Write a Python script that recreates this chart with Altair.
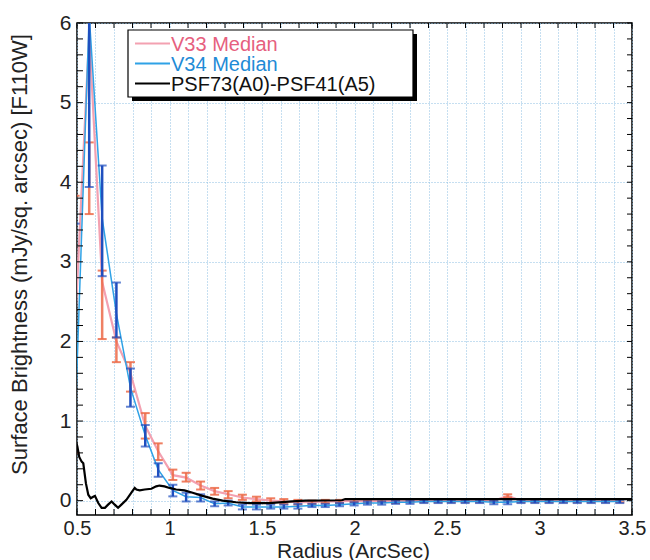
import altair as alt
import pandas as pd

# ---------------- data ----------------
radius = [0.490, 0.566, 0.636, 0.713, 0.789, 0.869, 0.939, 1.018, 1.090, 1.168,
          1.244, 1.317, 1.394, 1.470, 1.547, 1.618, 1.694, 1.770, 1.842, 1.919,
          1.998, 2.070, 2.147, 2.222, 2.300, 2.375, 2.452, 2.523, 2.598, 2.676,
          2.753, 2.828, 2.900, 2.975, 3.052, 3.129, 3.204, 3.279, 3.357, 3.434]

v34_med = [1.0, 6.1, 3.55, 2.35, 1.42, 0.82, 0.39, 0.13, 0.05, 0.04,
           -0.04, -0.03, -0.08, -0.08, -0.08, -0.08, -0.07, -0.06, -0.06, -0.05,
           -0.04, -0.03, -0.03, -0.02, -0.02, -0.01, -0.01, -0.01, -0.01, -0.01,
           -0.02, -0.02, -0.01, -0.01, -0.01, -0.01, -0.01, -0.01, -0.01, -0.01]
v34_lo = [-1.0, 3.94, 2.82, 2.05, 1.18, 0.68, 0.30, 0.054, -0.01, -0.01,
          -0.07, -0.06, -0.11, -0.11, -0.10, -0.10, -0.10, -0.08, -0.08, -0.07,
          -0.06, -0.05, -0.05, -0.04, -0.04, -0.03, -0.03, -0.03, -0.03, -0.03,
          -0.045, -0.045, -0.03, -0.03, -0.03, -0.03, -0.03, -0.03, -0.03, -0.03]
v34_hi = [3.48, 8.3, 4.21, 2.74, 1.66, 0.95, 0.47, 0.20, 0.10, 0.08,
          -0.01, 0.0, -0.05, -0.05, -0.05, -0.05, -0.04, -0.04, -0.04, -0.03,
          -0.02, -0.01, -0.01, 0.0, 0.0, 0.01, 0.01, 0.01, 0.01, 0.01,
          0.0, 0.0, 0.01, 0.01, 0.01, 0.01, 0.01, 0.01, 0.01, 0.01]

v33_med = [2.2, 5.87, 2.75, 2.0, 1.6, 0.94, 0.62, 0.32, 0.29, 0.19,
           0.12, 0.08, 0.04, 0.02, 0.0, -0.01, -0.02, -0.02, -0.01, -0.01,
           0.0, -0.01, 0.0, -0.01, 0.0, 0.0, 0.0, 0.0, 0.0, 0.0,
           0.0, 0.06, 0.0, 0.0, 0.0, 0.0, 0.0, 0.0, 0.0, 0.0]
v33_lo = [0.6, 3.6, 2.03, 1.74, 1.37, 0.78, 0.51, 0.26, 0.24, 0.14,
          0.075, 0.03, 0.01, -0.01, -0.03, -0.04, -0.05, -0.04, -0.03, -0.03,
          -0.02, -0.03, -0.02, -0.03, -0.02, -0.02, -0.02, -0.02, -0.02, -0.02,
          -0.02, 0.04, -0.02, -0.02, -0.02, -0.02, -0.02, -0.02, -0.02, -0.02]
v33_hi = [3.83, 4.5, 2.89, 2.05, 1.74, 1.10, 0.72, 0.39, 0.35, 0.24,
          0.16, 0.12, 0.075, 0.05, 0.03, 0.02, 0.01, 0.0, 0.01, 0.01,
          0.02, 0.01, 0.02, 0.01, 0.02, 0.02, 0.02, 0.02, 0.02, 0.02,
          0.02, 0.08, 0.02, 0.02, 0.02, 0.02, 0.02, 0.02, 0.02, 0.02]

psf_r = [0.495, 0.502, 0.512, 0.525, 0.534, 0.548, 0.561, 0.574, 0.588, 0.597,
         0.615, 0.633, 0.651, 0.668, 0.687, 0.704, 0.722, 0.740, 0.767, 0.794,
         0.812, 0.821, 0.839, 0.866, 0.902, 0.928, 0.946, 0.973, 1.000, 1.036,
         1.081, 1.125, 1.179, 1.233, 1.287, 1.359, 1.430, 1.538, 1.663, 1.735,
         1.932, 1.950, 2.505, 3.000, 3.500]
psf_v = [0.74, 0.68, 0.55, 0.49, 0.47, 0.22, 0.075, 0.03, 0.05, 0.06,
         -0.03, -0.09, -0.09, -0.05, -0.01, -0.05, -0.09, -0.05, 0.01, 0.10,
         0.16, 0.14, 0.13, 0.14, 0.15, 0.18, 0.19, 0.18, 0.16, 0.14,
         0.13, 0.10, 0.06, 0.025, 0.0, -0.02, -0.03, -0.03, -0.01, 0.0,
         0.005, 0.02, 0.02, 0.02, 0.02]

x_ticks = [round(0.5 + 0.1 * i, 1) for i in range(31)]
y_ticks = [round(0.2 * i, 1) for i in range(31)]
y_labels = [0, 1, 2, 3, 4, 5, 6]

legend_labels = ["V33 Median", "V34 Median", "PSF73(A0)-PSF41(A5)"]

# ---------------- styles ----------------
W, H = 555, 492
FONT = "Liberation Sans"
PINK = "#f3a1b1"
PINK_TXT = "#e6607e"
RED = "#ec6a48"
LBLUE = "#2fa2e6"
BLUE_TXT = "#1f8bd6"
DBLUE = "#1f4fbf"
GRID = "#8cbfe3"

xs = alt.Scale(domain=[0.5, 3.5], nice=False, zero=False)
ys = alt.Scale(domain=[-0.18, 6], nice=False, zero=False)

xaxis = alt.Axis(values=x_ticks, grid=True, gridColor=GRID, gridDash=[1, 2],
                 gridWidth=1, ticks=False, domain=False,
                 labelExpr="abs(datum.value*2 - round(datum.value*2)) < 0.001 ? toString(round(datum.value*10)/10) : ''",
                 labelFont=FONT, labelFontSize=20, labelColor="#222",
                 labelPadding=3, labelFlush=False, labelOverlap=False,
                 title="Radius (ArcSec)", titleFont=FONT, titleFontSize=21,
                 titleFontWeight="normal", titleColor="#222",
                 titleX=276, titleY=42, titleBaseline="alphabetic")
yaxis = alt.Axis(values=y_labels, grid=True, gridColor=GRID, gridDash=[1, 2],
                 gridWidth=1, ticks=False, domain=False,
                 labelFont=FONT, labelFontSize=21, labelColor="#222",
                 labelPadding=6, labelFlush=False, labelOverlap=False,
                 title="Surface Brightness (mJy/sq. arcsec) [F110W]",
                 titleFont=FONT, titleFontSize=22, titleFontWeight="normal",
                 titleColor="#222", titleX=-46, titleY=231)


def X(f):
    return alt.X(f, type="quantitative", scale=xs, axis=xaxis)


def Y(f):
    return alt.Y(f, type="quantitative", scale=ys, axis=yaxis)


df = pd.DataFrame({"r": radius, "v33": v33_med, "v33_lo": v33_lo, "v33_hi": v33_hi,
                   "v34": v34_med, "v34_lo": v34_lo, "v34_hi": v34_hi})
psf = pd.DataFrame({"r": psf_r, "v": psf_v})
xt = pd.DataFrame({"r": x_ticks})
yt = pd.DataFrame({"v": y_ticks})
one = pd.DataFrame({"a": [0]})

layers = []

# V33
layers.append(alt.Chart(df).mark_line(color=PINK, strokeWidth=2.2, clip=True)
              .encode(x=X("r"), y=Y("v33")))
layers.append(alt.Chart(df).mark_rule(color=RED, strokeWidth=2.5, opacity=0.85, clip=True)
              .encode(x=X("r"), y=Y("v33_lo"), y2="v33_hi"))
for f in ["v33_lo", "v33_hi"]:
    layers.append(alt.Chart(df).mark_tick(color=RED, orient="horizontal", size=9,
                                          thickness=2, opacity=0.85, clip=True)
                  .encode(x=X("r"), y=Y(f)))
# V34
layers.append(alt.Chart(df).mark_line(color=LBLUE, strokeWidth=1.5, clip=True)
              .encode(x=X("r"), y=Y("v34")))
layers.append(alt.Chart(df).mark_rule(color=DBLUE, strokeWidth=2.5, clip=True)
              .encode(x=X("r"), y=Y("v34_lo"), y2="v34_hi"))
for f in ["v34_lo", "v34_hi"]:
    layers.append(alt.Chart(df).mark_tick(color=DBLUE, orient="horizontal", size=9,
                                          thickness=2, clip=True)
                  .encode(x=X("r"), y=Y(f)))
# PSF difference
layers.append(alt.Chart(psf).mark_line(color="black", strokeWidth=2.2, clip=True)
              .encode(x=X("r"), y=Y("v")))

# inward ticks on all four sides
layers.append(alt.Chart(xt).mark_rule(color="black", strokeWidth=1)
              .encode(x=X("r"), y=alt.value(H), y2=alt.value(H - 6)))
layers.append(alt.Chart(xt).mark_rule(color="black", strokeWidth=1)
              .encode(x=X("r"), y=alt.value(0), y2=alt.value(5)))
layers.append(alt.Chart(yt).mark_rule(color="black", strokeWidth=1)
              .encode(y=Y("v"), x=alt.value(0), x2=alt.value(6)))
layers.append(alt.Chart(yt).mark_rule(color="black", strokeWidth=1)
              .encode(y=Y("v"), x=alt.value(W - 5), x2=alt.value(W)))

# legend box with drop shadow
LX0, LX1, LY0, LY1 = 51, 336, 7, 74
layers.append(alt.Chart(one).mark_rect(fill="black")
              .encode(x=alt.value(LX0 + 4), x2=alt.value(LX1 + 4),
                      y=alt.value(LY0 + 4), y2=alt.value(LY1 + 4)))
layers.append(alt.Chart(one).mark_rect(fill="white", stroke="black", strokeWidth=1.2)
              .encode(x=alt.value(LX0), x2=alt.value(LX1),
                      y=alt.value(LY0), y2=alt.value(LY1)))
rows = [20.5, 40.5, 60.5]
line_cols = [PINK, LBLUE, "black"]
txt_cols = [PINK_TXT, BLUE_TXT, "#111"]
for lab, yy, lc, tc in zip(legend_labels, rows, line_cols, txt_cols):
    layers.append(alt.Chart(one).mark_rule(color=lc, strokeWidth=2)
                  .encode(x=alt.value(58), x2=alt.value(93), y=alt.value(yy)))
    layers.append(alt.Chart(one).mark_text(align="left", baseline="middle", font=FONT,
                                           fontSize=20, color=tc)
                  .encode(x=alt.value(94), y=alt.value(yy + 1), text=alt.value(lab)))

chart = alt.layer(*layers).properties(
    width=W, height=H,
    padding={"left": 77, "top": 23, "right": 18, "bottom": 45},
    autosize="none",
    background="white",
).configure_view(stroke="black", strokeWidth=1.5)

chart.save("out.html", embed_options={"renderer": "svg", "actions": False})
